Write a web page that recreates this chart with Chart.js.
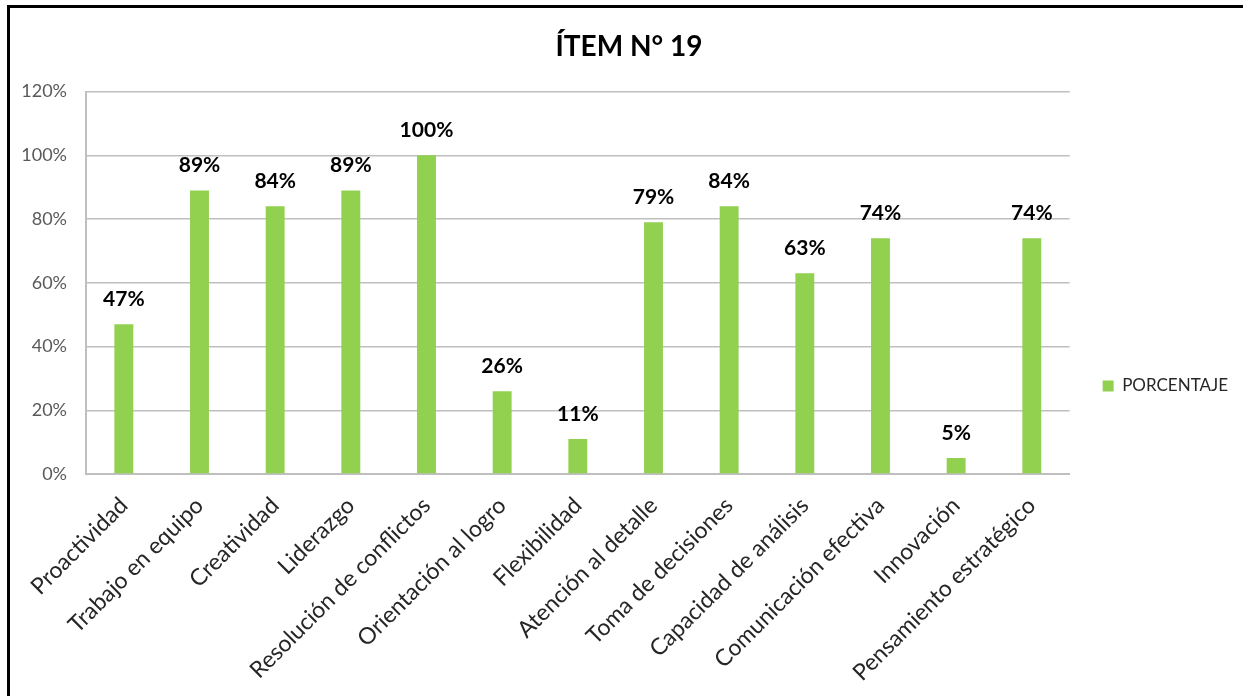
<!DOCTYPE html>
<html>
<head>
<meta charset="utf-8">
<script src="https://cdn.jsdelivr.net/npm/chart.js@4.4.0/dist/chart.umd.min.js"></script>
<style>
  html, body { margin: 0; padding: 0; background: #fff; }
  #frame { position: absolute; left: 7px; top: 5px; width: 1236px; height: 691px;
           border-top: 3px solid #000; border-left: 3px solid #000; box-sizing: border-box; }
  #wrap { position: absolute; left: 0; top: 0; width: 1243px; height: 696px; }
</style>
</head>
<body>
<div id="frame"></div>
<div id="wrap"><canvas id="chart"></canvas></div>
<script>
// datos
const categories = [
  'Proactividad', 'Trabajo en equipo', 'Creatividad', 'Liderazgo',
  'Resolución de conflictos', 'Orientación al logro', 'Flexibilidad',
  'Atención al detalle', 'Toma de decisiones', 'Capacidad de análisis',
  'Comunicación efectiva', 'Innovación', 'Pensamiento estratégico'
];
const porcentaje = [47, 89, 84, 89, 100, 26, 11, 79, 84, 63, 74, 5, 74];
const yTicks = [0, 20, 40, 60, 80, 100, 120];

const FONT = 'Lato, "Open Sans", sans-serif';
const GREEN = '#92D050';

// etiquetas de datos encima de cada barra
const barLabels = {
  id: 'barLabels',
  afterDatasetsDraw(chart) {
    const ctx = chart.ctx;
    const meta = chart.getDatasetMeta(0);
    ctx.save();
    ctx.font = 'bold 21px ' + FONT;
    ctx.fillStyle = '#000';
    ctx.textAlign = 'center';
    ctx.textBaseline = 'alphabetic';
    meta.data.forEach((bar, i) => {
      ctx.fillText(porcentaje[i] + '%', bar.x, bar.y - 18);
    });
    ctx.restore();
  }
};

new Chart(document.getElementById('chart'), {
  type: 'bar',
  data: {
    labels: categories,
    datasets: [{
      label: 'PORCENTAJE',
      data: porcentaje,
      backgroundColor: GREEN,
      borderWidth: 0,
      barPercentage: 0.25,
      categoryPercentage: 1,
    }],
  },
  options: {
    responsive: true,
    maintainAspectRatio: false,
    animation: false,
    layout: { padding: { top: 30, right: 5, bottom: 0, left: 20 } },
    plugins: {
      title: {
        display: true,
        text: 'ÍTEM N° 19',
        color: '#000',
        font: { family: FONT, size: 28, weight: 'bold' },
        padding: { top: 0, bottom: 28 },
      },
      legend: {
        position: 'right',
        // título vacío solo para bajar la leyenda como en el original
        title: { display: true, text: ' ', font: { size: 10 }, padding: 17 },
        labels: {
          color: '#262626',
          font: { family: FONT, size: 17 },
          boxWidth: 11,
          boxHeight: 11,
          padding: 33,
        },
      },
      tooltip: { enabled: false },
    },
    scales: {
      x: {
        grid: { display: false, drawTicks: false },
        border: { display: true, color: '#BFBFBF', width: 2 },
        ticks: {
          color: '#262626',
          font: { family: FONT, size: 23 },
          maxRotation: 45,
          minRotation: 45,
          autoSkip: false,
          padding: 18,
        },
        afterFit(scale) { scale.height = 222; },
      },
      y: {
        min: 0,
        max: 120,
        afterBuildTicks(scale) { scale.ticks = yTicks.map(v => ({ value: v })); },
        grid: { color: '#BFBFBF', lineWidth: 1.5, drawTicks: false },
        border: { display: true, color: '#BFBFBF', width: 2 },
        ticks: {
          color: '#595959',
          font: { family: FONT, size: 18 },
          padding: 19,
          callback: (v) => v + '%',
        },
        afterFit(scale) { scale.width = 66; },
      },
    },
  },
  plugins: [barLabels],
});
</script>
</body>
</html>
